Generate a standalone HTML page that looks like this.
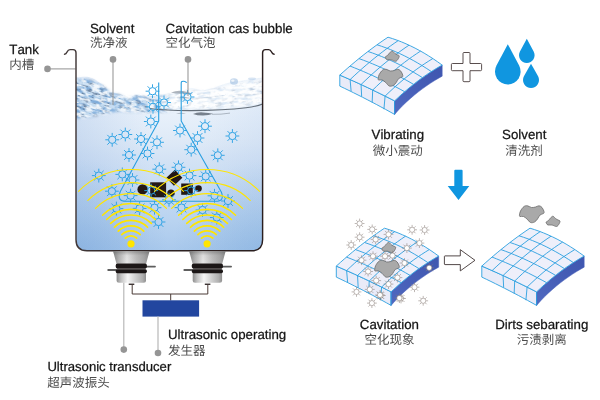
<!DOCTYPE html>
<html lang="zh"><head><meta charset="utf-8"><title>Ultrasonic cleaning principle</title>
<style>
html,body{margin:0;padding:0;background:#fff;}
body{width:600px;height:400px;overflow:hidden;}
svg{display:block;}
text{text-rendering:geometricPrecision;}
text{font-family:"Liberation Sans","Noto Sans CJK SC",sans-serif;}
.en{font-size:13.3px;fill:#141414;stroke:#141414;stroke-width:0.25px;font-kerning:none;}
.cn{font-size:12.5px;fill:#4c4c4c;}
</style></head><body>
<svg width="600" height="400" viewBox="0 0 600 400">
<defs>
<linearGradient id="water" x1="0" y1="0" x2="0" y2="1">
<stop offset="0" stop-color="#f6fafe"/><stop offset="0.22" stop-color="#e7f0fa"/><stop offset="0.36" stop-color="#dfeaf7"/><stop offset="0.47" stop-color="#d4e3f5"/><stop offset="0.82" stop-color="#b9d3f0"/><stop offset="1" stop-color="#a8c8ec"/>
</linearGradient>
<radialGradient id="waterc" gradientUnits="userSpaceOnUse" cx="76" cy="251" r="92"><stop offset="0" stop-color="#72a2d6" stop-opacity="0.4"/><stop offset="1" stop-color="#72a2d6" stop-opacity="0"/></radialGradient>
<radialGradient id="waterd" gradientUnits="userSpaceOnUse" cx="262.6" cy="251" r="90"><stop offset="0" stop-color="#72a4d6" stop-opacity="0.35"/><stop offset="1" stop-color="#72a4d6" stop-opacity="0"/></radialGradient>
<linearGradient id="waterh" x1="0" y1="0" x2="1" y2="0">
<stop offset="0" stop-color="#6f9ad6" stop-opacity="0.2"/><stop offset="0.4" stop-color="#6f9ad6" stop-opacity="0"/><stop offset="0.67" stop-color="#6f9ad6" stop-opacity="0"/><stop offset="1" stop-color="#6f9ad6" stop-opacity="0.1"/>
</linearGradient>
<linearGradient id="metal" x1="0" y1="0" x2="1" y2="0">
<stop offset="0" stop-color="#868686"/><stop offset="0.15" stop-color="#b4b4b4"/><stop offset="0.38" stop-color="#ececec"/><stop offset="0.62" stop-color="#c4c4c4"/><stop offset="0.85" stop-color="#a9a9a9"/><stop offset="1" stop-color="#8c8c8c"/>
</linearGradient>
<linearGradient id="metal2" x1="0" y1="0" x2="1" y2="0">
<stop offset="0" stop-color="#8e8e8e"/><stop offset="0.15" stop-color="#c2c2c2"/><stop offset="0.38" stop-color="#f6f6f6"/><stop offset="0.65" stop-color="#cfcfcf"/><stop offset="0.88" stop-color="#b0b0b0"/><stop offset="1" stop-color="#909090"/>
</linearGradient>
<linearGradient id="side" x1="0" y1="1" x2="1" y2="0">
<stop offset="0" stop-color="#5069c0"/><stop offset="0.5" stop-color="#465eb7"/><stop offset="1" stop-color="#3f56af"/>
</linearGradient>
<linearGradient id="wall" gradientUnits="userSpaceOnUse" x1="64" y1="0" x2="274" y2="0"><stop offset="0" stop-color="#453c3c"/><stop offset="0.3" stop-color="#2e2323"/><stop offset="1" stop-color="#2a1e1e"/></linearGradient>
<linearGradient id="hornv" x1="0" y1="0" x2="0" y2="1"><stop offset="0" stop-color="#555" stop-opacity="0.45"/><stop offset="0.35" stop-color="#777" stop-opacity="0.12"/><stop offset="1" stop-color="#888" stop-opacity="0.05"/></linearGradient>
<clipPath id="tankclip"><path d="M76 60V239.8Q76 250.8 87 250.8H251.6Q262.6 250.8 262.6 239.8V60Z"/></clipPath>
<filter id="foamA" x="0" y="0" width="100%" height="100%" color-interpolation-filters="sRGB">
<feTurbulence type="fractalNoise" baseFrequency="0.09 0.28" numOctaves="4" seed="11"/>
<feColorMatrix type="matrix" values="0 0 0 0 0.50  0 0 0 0 0.68  0 0 0 0 0.86  5 0 0 0 -2.1"/>
<feComposite in2="SourceGraphic" operator="in"/>
</filter>
<filter id="foamB" x="0" y="0" width="100%" height="100%" color-interpolation-filters="sRGB">
<feTurbulence type="fractalNoise" baseFrequency="0.14 0.5" numOctaves="3" seed="5"/>
<feColorMatrix type="matrix" values="0 0 0 0 0.36  0 0 0 0 0.45  0 0 0 0 0.57  0 7 0 0 -3.8"/>
<feComposite in2="SourceGraphic" operator="in"/>
</filter>
<filter id="foamW" x="0" y="0" width="100%" height="100%" color-interpolation-filters="sRGB">
<feTurbulence type="fractalNoise" baseFrequency="0.12 0.36" numOctaves="3" seed="23"/>
<feColorMatrix type="matrix" values="0 0 0 0 1  0 0 0 0 1  0 0 0 0 1  0 0 7 0 -3.3"/>
<feComposite in2="SourceGraphic" operator="in"/>
</filter>
<filter id="blur1" x="-20%" y="-20%" width="140%" height="140%"><feGaussianBlur stdDeviation="0.7"/></filter>
<filter id="blur2" x="-10%" y="-30%" width="120%" height="160%"><feGaussianBlur stdDeviation="1.5"/></filter>
<mask id="mL" maskUnits="userSpaceOnUse" x="60" y="60" width="220" height="80"><path d="M70 79C84 77.5 92 78.5 103 86C110 92 114 94 120 95C126 98 131 99 137 95C144 98 156 97 172 95L172 111C150 113 135 112 120 111C105 113 92 118 70 119Z" fill="#fff" filter="url(#blur2)"/></mask>
<mask id="mR" maskUnits="userSpaceOnUse" x="60" y="60" width="220" height="80"><path d="M160 96C176 95 186 90 192 90C200 92 214 90 230 84.5C242 82 252 81 268 79.5V103C240 108 215 109 190 109L160 109Z" fill="#fff" filter="url(#blur2)"/></mask>
</defs>
<rect width="600" height="400" fill="#fff"/>

<g clip-path="url(#tankclip)">
<path d="M76 77.5C80 77 84 76.5 87 76.8C92 77.5 96 80 103 85C107 88.5 109 91.5 112 92.5C115 93.5 117 93 120 94C123 95 125 98 128 98C131 98 134 94.5 137 94C140 93.5 142 97 145 97.5C150 98 158 95 165 94C172 93 176 93.5 180 92C185 90 188 87.5 192 88C197 88.5 200 91 206 90C214 88.5 222 84 230 82.5C240 80.5 252 79 262.5 77.5V252H76Z" fill="url(#water)"/>
<path d="M76 77.5C80 77 84 76.5 87 76.8C92 77.5 96 80 103 85C107 88.5 109 91.5 112 92.5C115 93.5 117 93 120 94C123 95 125 98 128 98C131 98 134 94.5 137 94C140 93.5 142 97 145 97.5C150 98 158 95 165 94C172 93 176 93.5 180 92C185 90 188 87.5 192 88C197 88.5 200 91 206 90C214 88.5 222 84 230 82.5C240 80.5 252 79 262.5 77.5V252H76Z" fill="url(#waterh)"/>
<path d="M76 77.5C80 77 84 76.5 87 76.8C92 77.5 96 80 103 85C107 88.5 109 91.5 112 92.5C115 93.5 117 93 120 94C123 95 125 98 128 98C131 98 134 94.5 137 94C140 93.5 142 97 145 97.5C150 98 158 95 165 94C172 93 176 93.5 180 92C185 90 188 87.5 192 88C197 88.5 200 91 206 90C214 88.5 222 84 230 82.5C240 80.5 252 79 262.5 77.5V252H76Z" fill="url(#waterc)"/>
<path d="M76 77.5C80 77 84 76.5 87 76.8C92 77.5 96 80 103 85C107 88.5 109 91.5 112 92.5C115 93.5 117 93 120 94C123 95 125 98 128 98C131 98 134 94.5 137 94C140 93.5 142 97 145 97.5C150 98 158 95 165 94C172 93 176 93.5 180 92C185 90 188 87.5 192 88C197 88.5 200 91 206 90C214 88.5 222 84 230 82.5C240 80.5 252 79 262.5 77.5V252H76Z" fill="url(#waterd)"/>
<g mask="url(#mL)">
<rect x="70" y="70" width="110" height="55" fill="#c4dcf1" opacity="0.9"/>
<g transform="rotate(17 120 95)">
<rect x="50" y="50" width="150" height="90" fill="#000" filter="url(#foamA)"/>
<rect x="50" y="50" width="150" height="90" fill="#000" filter="url(#foamB)" opacity="0.75"/>
<rect x="50" y="50" width="150" height="90" fill="#000" filter="url(#foamW)" opacity="0.8"/>
</g></g>
<g mask="url(#mR)">
<rect x="155" y="70" width="115" height="55" fill="#fff" opacity="0.88"/>
<g transform="rotate(-6 215 95)">
<rect x="140" y="55" width="140" height="80" fill="#000" filter="url(#foamA)" opacity="0.26"/>
<rect x="140" y="55" width="140" height="80" fill="#000" filter="url(#foamB)" opacity="0.22"/>
<rect x="140" y="55" width="140" height="80" fill="#000" filter="url(#foamW)" opacity="0.9"/>
</g></g>
<path d="M171 92.5q6 -2.5 12 -1.5q6 1 10 3.2q-6 -0.6 -11 -0.4q-6 0.2 -11 -1.3z" fill="#6a7686" opacity="0.55"/>
<path d="M176 97q8 -1 16 1.2q-8 0.8 -16 -1.2z" fill="#6a7686" opacity="0.45"/>
<g filter="url(#blur1)"><ellipse cx="234" cy="81.5" rx="4" ry="3.2" fill="#8fb4dc" opacity="0.5"/><ellipse cx="232.8" cy="80.6" rx="1.6" ry="1.2" fill="#fff" opacity="0.7"/>
<ellipse cx="252" cy="78.8" rx="4" ry="1.4" fill="#9dbde0" opacity="0.4"/></g>
<path d="M150 108.5C160 110 175 110.6 190 110.6C210 110.6 232 109.6 246 107.8C254 106.8 259 105.5 262.6 104" fill="none" stroke="#57606c" stroke-width="1.05" opacity="0.9"/>
<path d="M193 114q4 -2 10 -1.6q6 0.2 10 1.4q-4 1.8 -10 1.8q-6 0 -10 -1.6z" fill="#5b6572" opacity="0.8"/>
<path d="M176 113.2q5 -0.8 10 0q-5 1.2 -10 0z" fill="#5b6572" opacity="0.45"/>
<path d="M212 114.3q9 0.3 18 -1.2" fill="none" stroke="#6b7683" stroke-width="0.8" opacity="0.6"/>
</g>
<g fill="#231815">
<circle cx="142.6" cy="189.4" r="5.2"/>
<rect x="150.2" y="182.3" width="15.9" height="15"/>
<rect x="-5.8" y="-5.5" width="11.6" height="11" transform="translate(174.4 177.8) rotate(-43)"/>
<circle cx="171" cy="193.2" r="3.7"/>
<rect x="181.2" y="183.5" width="11.6" height="11.3"/>
<circle cx="198.5" cy="188.5" r="3.3"/>
</g>
<g clip-path="url(#tankclip)">
<circle cx="152.50" cy="91.20" r="3.65" fill="none" stroke="#2aa1e4" stroke-width="1.00"/><path d="M156.60 91.20L159.40 91.20M155.40 94.10L157.38 96.08M152.50 95.30L152.50 98.10M149.60 94.10L147.62 96.08M148.40 91.20L145.60 91.20M149.60 88.30L147.62 86.32M152.50 87.10L152.50 84.30M155.40 88.30L157.38 86.32" stroke="#2aa1e4" stroke-width="0.95" fill="none"/>
<circle cx="153.00" cy="106.80" r="3.65" fill="none" stroke="#2aa1e4" stroke-width="1.00"/><path d="M157.10 106.80L159.90 106.80M155.90 109.70L157.88 111.68M153.00 110.90L153.00 113.70M150.10 109.70L148.12 111.68M148.90 106.80L146.10 106.80M150.10 103.90L148.12 101.92M153.00 102.70L153.00 99.90M155.90 103.90L157.88 101.92" stroke="#2aa1e4" stroke-width="0.95" fill="none"/>
<circle cx="164.00" cy="102.50" r="3.65" fill="none" stroke="#2aa1e4" stroke-width="1.00"/><path d="M168.10 102.50L170.90 102.50M166.90 105.40L168.88 107.38M164.00 106.60L164.00 109.40M161.10 105.40L159.12 107.38M159.90 102.50L157.10 102.50M161.10 99.60L159.12 97.62M164.00 98.40L164.00 95.60M166.90 99.60L168.88 97.62" stroke="#2aa1e4" stroke-width="0.95" fill="none"/>
<circle cx="150.80" cy="121.50" r="3.65" fill="none" stroke="#2aa1e4" stroke-width="1.00"/><path d="M154.90 121.50L157.70 121.50M153.70 124.40L155.68 126.38M150.80 125.60L150.80 128.40M147.90 124.40L145.92 126.38M146.70 121.50L143.90 121.50M147.90 118.60L145.92 116.62M150.80 117.40L150.80 114.60M153.70 118.60L155.68 116.62" stroke="#2aa1e4" stroke-width="0.95" fill="none"/>
<circle cx="187.50" cy="97.00" r="3.65" fill="none" stroke="#2aa1e4" stroke-width="1.00"/><path d="M191.60 97.00L194.40 97.00M190.40 99.90L192.38 101.88M187.50 101.10L187.50 103.90M184.60 99.90L182.62 101.88M183.40 97.00L180.60 97.00M184.60 94.10L182.62 92.12M187.50 92.90L187.50 90.10M190.40 94.10L192.38 92.12" stroke="#2aa1e4" stroke-width="0.95" fill="none"/>
<circle cx="112.20" cy="139.80" r="3.65" fill="none" stroke="#2aa1e4" stroke-width="1.00"/><path d="M116.30 139.80L119.10 139.80M115.10 142.70L117.08 144.68M112.20 143.90L112.20 146.70M109.30 142.70L107.32 144.68M108.10 139.80L105.30 139.80M109.30 136.90L107.32 134.92M112.20 135.70L112.20 132.90M115.10 136.90L117.08 134.92" stroke="#2aa1e4" stroke-width="0.95" fill="none"/>
<circle cx="125.30" cy="134.50" r="3.65" fill="none" stroke="#2aa1e4" stroke-width="1.00"/><path d="M129.40 134.50L132.20 134.50M128.20 137.40L130.18 139.38M125.30 138.60L125.30 141.40M122.40 137.40L120.42 139.38M121.20 134.50L118.40 134.50M122.40 131.60L120.42 129.62M125.30 130.40L125.30 127.60M128.20 131.60L130.18 129.62" stroke="#2aa1e4" stroke-width="0.95" fill="none"/>
<circle cx="141.00" cy="139.00" r="3.65" fill="none" stroke="#2aa1e4" stroke-width="1.00"/><path d="M145.10 139.00L147.90 139.00M143.90 141.90L145.88 143.88M141.00 143.10L141.00 145.90M138.10 141.90L136.12 143.88M136.90 139.00L134.10 139.00M138.10 136.10L136.12 134.12M141.00 134.90L141.00 132.10M143.90 136.10L145.88 134.12" stroke="#2aa1e4" stroke-width="0.95" fill="none"/>
<circle cx="157.00" cy="142.30" r="3.65" fill="none" stroke="#2aa1e4" stroke-width="1.00"/><path d="M161.10 142.30L163.90 142.30M159.90 145.20L161.88 147.18M157.00 146.40L157.00 149.20M154.10 145.20L152.12 147.18M152.90 142.30L150.10 142.30M154.10 139.40L152.12 137.42M157.00 138.20L157.00 135.40M159.90 139.40L161.88 137.42" stroke="#2aa1e4" stroke-width="0.95" fill="none"/>
<circle cx="129.00" cy="155.00" r="3.65" fill="none" stroke="#2aa1e4" stroke-width="1.00"/><path d="M133.10 155.00L135.90 155.00M131.90 157.90L133.88 159.88M129.00 159.10L129.00 161.90M126.10 157.90L124.12 159.88M124.90 155.00L122.10 155.00M126.10 152.10L124.12 150.12M129.00 150.90L129.00 148.10M131.90 152.10L133.88 150.12" stroke="#2aa1e4" stroke-width="0.95" fill="none"/>
<circle cx="147.50" cy="153.50" r="3.65" fill="none" stroke="#2aa1e4" stroke-width="1.00"/><path d="M151.60 153.50L154.40 153.50M150.40 156.40L152.38 158.38M147.50 157.60L147.50 160.40M144.60 156.40L142.62 158.38M143.40 153.50L140.60 153.50M144.60 150.60L142.62 148.62M147.50 149.40L147.50 146.60M150.40 150.60L152.38 148.62" stroke="#2aa1e4" stroke-width="0.95" fill="none"/>
<circle cx="180.00" cy="130.50" r="3.65" fill="none" stroke="#2aa1e4" stroke-width="1.00"/><path d="M184.10 130.50L186.90 130.50M182.90 133.40L184.88 135.38M180.00 134.60L180.00 137.40M177.10 133.40L175.12 135.38M175.90 130.50L173.10 130.50M177.10 127.60L175.12 125.62M180.00 126.40L180.00 123.60M182.90 127.60L184.88 125.62" stroke="#2aa1e4" stroke-width="0.95" fill="none"/>
<circle cx="205.00" cy="126.20" r="3.65" fill="none" stroke="#2aa1e4" stroke-width="1.00"/><path d="M209.10 126.20L211.90 126.20M207.90 129.10L209.88 131.08M205.00 130.30L205.00 133.10M202.10 129.10L200.12 131.08M200.90 126.20L198.10 126.20M202.10 123.30L200.12 121.32M205.00 122.10L205.00 119.30M207.90 123.30L209.88 121.32" stroke="#2aa1e4" stroke-width="0.95" fill="none"/>
<circle cx="197.50" cy="138.00" r="3.65" fill="none" stroke="#2aa1e4" stroke-width="1.00"/><path d="M201.60 138.00L204.40 138.00M200.40 140.90L202.38 142.88M197.50 142.10L197.50 144.90M194.60 140.90L192.62 142.88M193.40 138.00L190.60 138.00M194.60 135.10L192.62 133.12M197.50 133.90L197.50 131.10M200.40 135.10L202.38 133.12" stroke="#2aa1e4" stroke-width="0.95" fill="none"/>
<circle cx="191.20" cy="149.70" r="3.65" fill="none" stroke="#2aa1e4" stroke-width="1.00"/><path d="M195.30 149.70L198.10 149.70M194.10 152.60L196.08 154.58M191.20 153.80L191.20 156.60M188.30 152.60L186.32 154.58M187.10 149.70L184.30 149.70M188.30 146.80L186.32 144.82M191.20 145.60L191.20 142.80M194.10 146.80L196.08 144.82" stroke="#2aa1e4" stroke-width="0.95" fill="none"/>
<circle cx="232.40" cy="136.00" r="3.65" fill="none" stroke="#2aa1e4" stroke-width="1.00"/><path d="M236.50 136.00L239.30 136.00M235.30 138.90L237.28 140.88M232.40 140.10L232.40 142.90M229.50 138.90L227.52 140.88M228.30 136.00L225.50 136.00M229.50 133.10L227.52 131.12M232.40 131.90L232.40 129.10M235.30 133.10L237.28 131.12" stroke="#2aa1e4" stroke-width="0.95" fill="none"/>
<circle cx="217.80" cy="155.30" r="3.65" fill="none" stroke="#2aa1e4" stroke-width="1.00"/><path d="M221.90 155.30L224.70 155.30M220.70 158.20L222.68 160.18M217.80 159.40L217.80 162.20M214.90 158.20L212.92 160.18M213.70 155.30L210.90 155.30M214.90 152.40L212.92 150.42M217.80 151.20L217.80 148.40M220.70 152.40L222.68 150.42" stroke="#2aa1e4" stroke-width="0.95" fill="none"/>
<circle cx="159.30" cy="169.20" r="3.65" fill="none" stroke="#2aa1e4" stroke-width="1.00"/><path d="M163.40 169.20L166.20 169.20M162.20 172.10L164.18 174.08M159.30 173.30L159.30 176.10M156.40 172.10L154.42 174.08M155.20 169.20L152.40 169.20M156.40 166.30L154.42 164.32M159.30 165.10L159.30 162.30M162.20 166.30L164.18 164.32" stroke="#2aa1e4" stroke-width="0.95" fill="none"/>
<circle cx="178.50" cy="167.30" r="3.65" fill="none" stroke="#2aa1e4" stroke-width="1.00"/><path d="M182.60 167.30L185.40 167.30M181.40 170.20L183.38 172.18M178.50 171.40L178.50 174.20M175.60 170.20L173.62 172.18M174.40 167.30L171.60 167.30M175.60 164.40L173.62 162.42M178.50 163.20L178.50 160.40M181.40 164.40L183.38 162.42" stroke="#2aa1e4" stroke-width="0.95" fill="none"/>
<circle cx="122.30" cy="174.40" r="3.65" fill="none" stroke="#2aa1e4" stroke-width="1.00"/><path d="M126.40 174.40L129.20 174.40M125.20 177.30L127.18 179.28M122.30 178.50L122.30 181.30M119.40 177.30L117.42 179.28M118.20 174.40L115.40 174.40M119.40 171.50L117.42 169.52M122.30 170.30L122.30 167.50M125.20 171.50L127.18 169.52" stroke="#2aa1e4" stroke-width="0.95" fill="none"/>
<circle cx="132.50" cy="180.00" r="3.65" fill="none" stroke="#2aa1e4" stroke-width="1.00"/><path d="M136.60 180.00L139.40 180.00M135.40 182.90L137.38 184.88M132.50 184.10L132.50 186.90M129.60 182.90L127.62 184.88M128.40 180.00L125.60 180.00M129.60 177.10L127.62 175.12M132.50 175.90L132.50 173.10M135.40 177.10L137.38 175.12" stroke="#2aa1e4" stroke-width="0.95" fill="none"/>
<circle cx="98.80" cy="175.60" r="3.65" fill="none" stroke="#2aa1e4" stroke-width="1.00"/><path d="M102.90 175.60L105.70 175.60M101.70 178.50L103.68 180.48M98.80 179.70L98.80 182.50M95.90 178.50L93.92 180.48M94.70 175.60L91.90 175.60M95.90 172.70L93.92 170.72M98.80 171.50L98.80 168.70M101.70 172.70L103.68 170.72" stroke="#2aa1e4" stroke-width="0.95" fill="none"/>
<circle cx="111.90" cy="191.20" r="3.65" fill="none" stroke="#2aa1e4" stroke-width="1.00"/><path d="M116.00 191.20L118.80 191.20M114.80 194.10L116.78 196.08M111.90 195.30L111.90 198.10M109.00 194.10L107.02 196.08M107.80 191.20L105.00 191.20M109.00 188.30L107.02 186.32M111.90 187.10L111.90 184.30M114.80 188.30L116.78 186.32" stroke="#2aa1e4" stroke-width="0.95" fill="none"/>
<circle cx="130.60" cy="195.60" r="3.65" fill="none" stroke="#2aa1e4" stroke-width="1.00"/><path d="M134.70 195.60L137.50 195.60M133.50 198.50L135.48 200.48M130.60 199.70L130.60 202.50M127.70 198.50L125.72 200.48M126.50 195.60L123.70 195.60M127.70 192.70L125.72 190.72M130.60 191.50L130.60 188.70M133.50 192.70L135.48 190.72" stroke="#2aa1e4" stroke-width="0.95" fill="none"/>
<circle cx="189.50" cy="175.60" r="3.65" fill="none" stroke="#2aa1e4" stroke-width="1.00"/><path d="M193.60 175.60L196.40 175.60M192.40 178.50L194.38 180.48M189.50 179.70L189.50 182.50M186.60 178.50L184.62 180.48M185.40 175.60L182.60 175.60M186.60 172.70L184.62 170.72M189.50 171.50L189.50 168.70M192.40 172.70L194.38 170.72" stroke="#2aa1e4" stroke-width="0.95" fill="none"/>
<circle cx="205.70" cy="176.40" r="3.65" fill="none" stroke="#2aa1e4" stroke-width="1.00"/><path d="M209.80 176.40L212.60 176.40M208.60 179.30L210.58 181.28M205.70 180.50L205.70 183.30M202.80 179.30L200.82 181.28M201.60 176.40L198.80 176.40M202.80 173.50L200.82 171.52M205.70 172.30L205.70 169.50M208.60 173.50L210.58 171.52" stroke="#2aa1e4" stroke-width="0.95" fill="none"/>
<circle cx="214.50" cy="195.80" r="3.65" fill="none" stroke="#2aa1e4" stroke-width="1.00"/><path d="M218.60 195.80L221.40 195.80M217.40 198.70L219.38 200.68M214.50 199.90L214.50 202.70M211.60 198.70L209.62 200.68M210.40 195.80L207.60 195.80M211.60 192.90L209.62 190.92M214.50 191.70L214.50 188.90M217.40 192.90L219.38 190.92" stroke="#2aa1e4" stroke-width="0.95" fill="none"/>
<circle cx="228.00" cy="201.00" r="3.65" fill="none" stroke="#2aa1e4" stroke-width="1.00"/><path d="M232.10 201.00L234.90 201.00M230.90 203.90L232.88 205.88M228.00 205.10L228.00 207.90M225.10 203.90L223.12 205.88M223.90 201.00L221.10 201.00M225.10 198.10L223.12 196.12M228.00 196.90L228.00 194.10M230.90 198.10L232.88 196.12" stroke="#2aa1e4" stroke-width="0.95" fill="none"/>
<circle cx="151.20" cy="190.60" r="3.65" fill="none" stroke="#2aa1e4" stroke-width="1.00"/><path d="M155.30 190.60L158.10 190.60M154.10 193.50L156.08 195.48M151.20 194.70L151.20 197.50M148.30 193.50L146.32 195.48M147.10 190.60L144.30 190.60M148.30 187.70L146.32 185.72M151.20 186.50L151.20 183.70M154.10 187.70L156.08 185.72" stroke="#2aa1e4" stroke-width="0.95" fill="none"/>
<circle cx="191.20" cy="190.60" r="3.65" fill="none" stroke="#2aa1e4" stroke-width="1.00"/><path d="M195.30 190.60L198.10 190.60M194.10 193.50L196.08 195.48M191.20 194.70L191.20 197.50M188.30 193.50L186.32 195.48M187.10 190.60L184.30 190.60M188.30 187.70L186.32 185.72M191.20 186.50L191.20 183.70M194.10 187.70L196.08 185.72" stroke="#2aa1e4" stroke-width="0.95" fill="none"/>
<circle cx="116.40" cy="208.60" r="3.65" fill="none" stroke="#2aa1e4" stroke-width="1.00"/><path d="M120.50 208.60L123.30 208.60M119.30 211.50L121.28 213.48M116.40 212.70L116.40 215.50M113.50 211.50L111.52 213.48M112.30 208.60L109.50 208.60M113.50 205.70L111.52 203.72M116.40 204.50L116.40 201.70M119.30 205.70L121.28 203.72" stroke="#2aa1e4" stroke-width="0.95" fill="none"/>
<circle cx="139.60" cy="208.40" r="3.65" fill="none" stroke="#2aa1e4" stroke-width="1.00"/><path d="M143.70 208.40L146.50 208.40M142.50 211.30L144.48 213.28M139.60 212.50L139.60 215.30M136.70 211.30L134.72 213.28M135.50 208.40L132.70 208.40M136.70 205.50L134.72 203.52M139.60 204.30L139.60 201.50M142.50 205.50L144.48 203.52" stroke="#2aa1e4" stroke-width="0.95" fill="none"/>
<circle cx="154.50" cy="207.70" r="3.65" fill="none" stroke="#2aa1e4" stroke-width="1.00"/><path d="M158.60 207.70L161.40 207.70M157.40 210.60L159.38 212.58M154.50 211.80L154.50 214.60M151.60 210.60L149.62 212.58M150.40 207.70L147.60 207.70M151.60 204.80L149.62 202.82M154.50 203.60L154.50 200.80M157.40 204.80L159.38 202.82" stroke="#2aa1e4" stroke-width="0.95" fill="none"/>
<circle cx="158.50" cy="222.00" r="3.65" fill="none" stroke="#2aa1e4" stroke-width="1.00"/><path d="M162.60 222.00L165.40 222.00M161.40 224.90L163.38 226.88M158.50 226.10L158.50 228.90M155.60 224.90L153.62 226.88M154.40 222.00L151.60 222.00M155.60 219.10L153.62 217.12M158.50 217.90L158.50 215.10M161.40 219.10L163.38 217.12" stroke="#2aa1e4" stroke-width="0.95" fill="none"/>
<circle cx="181.50" cy="207.60" r="3.65" fill="none" stroke="#2aa1e4" stroke-width="1.00"/><path d="M185.60 207.60L188.40 207.60M184.40 210.50L186.38 212.48M181.50 211.70L181.50 214.50M178.60 210.50L176.62 212.48M177.40 207.60L174.60 207.60M178.60 204.70L176.62 202.72M181.50 203.50L181.50 200.70M184.40 204.70L186.38 202.72" stroke="#2aa1e4" stroke-width="0.95" fill="none"/>
<circle cx="202.50" cy="210.00" r="3.65" fill="none" stroke="#2aa1e4" stroke-width="1.00"/><path d="M206.60 210.00L209.40 210.00M205.40 212.90L207.38 214.88M202.50 214.10L202.50 216.90M199.60 212.90L197.62 214.88M198.40 210.00L195.60 210.00M199.60 207.10L197.62 205.12M202.50 205.90L202.50 203.10M205.40 207.10L207.38 205.12" stroke="#2aa1e4" stroke-width="0.95" fill="none"/>
<circle cx="216.80" cy="217.50" r="3.65" fill="none" stroke="#2aa1e4" stroke-width="1.00"/><path d="M220.90 217.50L223.70 217.50M219.70 220.40L221.68 222.38M216.80 221.60L216.80 224.40M213.90 220.40L211.92 222.38M212.70 217.50L209.90 217.50M213.90 214.60L211.92 212.62M216.80 213.40L216.80 210.60M219.70 214.60L221.68 212.62" stroke="#2aa1e4" stroke-width="0.95" fill="none"/>
<circle cx="169.00" cy="199.80" r="3.65" fill="none" stroke="#2aa1e4" stroke-width="1.00"/><path d="M173.10 199.80L175.90 199.80M171.90 202.70L173.88 204.68M169.00 203.90L169.00 206.70M166.10 202.70L164.12 204.68M164.90 199.80L162.10 199.80M166.10 196.90L164.12 194.92M169.00 195.70L169.00 192.90M171.90 196.90L173.88 194.92" stroke="#2aa1e4" stroke-width="0.95" fill="none"/>
</g>
<path d="M158.7 82.5V121L120.3 191.5Q116.5 201.3 126 201.3H215.5Q225 201.3 221.3 192L181.2 121V83Q181.2 81 184 81.2Q186.3 81.4 186.5 83" fill="none" stroke="#2a9fe0" stroke-width="1.1" stroke-linejoin="round"/>
<g clip-path="url(#tankclip)">
<path d="M125.34 238.14A8.00 8.00 0 0 1 136.66 238.14" fill="none" stroke="#ffe500" stroke-width="1.75" stroke-linecap="round"/><path d="M121.81 234.61A13.00 13.00 0 0 1 140.19 234.61" fill="none" stroke="#ffe500" stroke-width="1.75" stroke-linecap="round"/><path d="M118.27 231.07A18.00 18.00 0 0 1 143.73 231.07" fill="none" stroke="#ffe500" stroke-width="1.75" stroke-linecap="round"/><path d="M114.45 227.25A23.40 23.40 0 0 1 147.55 227.25" fill="none" stroke="#ffe500" stroke-width="1.75" stroke-linecap="round"/><path d="M110.64 223.44A28.80 28.80 0 0 1 151.36 223.44" fill="none" stroke="#ffe500" stroke-width="1.70" stroke-linecap="round"/><path d="M106.68 219.48A34.40 34.40 0 0 1 155.32 219.48" fill="none" stroke="#ffe500" stroke-width="1.60" stroke-linecap="round"/><path d="M102.50 215.30A40.30 40.30 0 0 1 159.50 215.30" fill="none" stroke="#ffe500" stroke-width="1.40" stroke-linecap="round"/><path d="M95.50 208.30A50.20 50.20 0 0 1 166.50 208.30" fill="none" stroke="#ffe500" stroke-width="1.15" stroke-linecap="round"/><path d="M87.73 200.53A61.20 61.20 0 0 1 174.27 200.53" fill="none" stroke="#ffe500" stroke-width="1.05" stroke-linecap="round"/><path d="M78.53 191.33A74.20 74.20 0 0 1 183.47 191.33" fill="none" stroke="#ffe500" stroke-width="1.05" stroke-linecap="round"/><circle cx="131.00" cy="243.80" r="3.6" fill="#ffe500"/>
<path d="M201.44 238.14A8.00 8.00 0 0 1 212.76 238.14" fill="none" stroke="#ffe500" stroke-width="1.75" stroke-linecap="round"/><path d="M197.91 234.61A13.00 13.00 0 0 1 216.29 234.61" fill="none" stroke="#ffe500" stroke-width="1.75" stroke-linecap="round"/><path d="M194.37 231.07A18.00 18.00 0 0 1 219.83 231.07" fill="none" stroke="#ffe500" stroke-width="1.75" stroke-linecap="round"/><path d="M190.55 227.25A23.40 23.40 0 0 1 223.65 227.25" fill="none" stroke="#ffe500" stroke-width="1.75" stroke-linecap="round"/><path d="M186.74 223.44A28.80 28.80 0 0 1 227.46 223.44" fill="none" stroke="#ffe500" stroke-width="1.70" stroke-linecap="round"/><path d="M182.78 219.48A34.40 34.40 0 0 1 231.42 219.48" fill="none" stroke="#ffe500" stroke-width="1.60" stroke-linecap="round"/><path d="M178.60 215.30A40.30 40.30 0 0 1 235.60 215.30" fill="none" stroke="#ffe500" stroke-width="1.40" stroke-linecap="round"/><path d="M171.60 208.30A50.20 50.20 0 0 1 242.60 208.30" fill="none" stroke="#ffe500" stroke-width="1.15" stroke-linecap="round"/><path d="M163.83 200.53A61.20 61.20 0 0 1 250.37 200.53" fill="none" stroke="#ffe500" stroke-width="1.05" stroke-linecap="round"/><path d="M154.63 191.33A74.20 74.20 0 0 1 259.57 191.33" fill="none" stroke="#ffe500" stroke-width="1.05" stroke-linecap="round"/><circle cx="207.10" cy="243.80" r="3.6" fill="#ffe500"/>
</g>
<g stroke="#9a9a9a" stroke-width="1.1" fill="none">
<path d="M47.5 68.9H75.5"/><path d="M113 59.5V105"/><path d="M188 59.5V96"/>
</g>
<g fill="#959595"><circle cx="47.5" cy="68.9" r="3.3"/><circle cx="113" cy="59.4" r="3.3"/><circle cx="188" cy="59.4" r="3.3"/></g>
<path d="M64.5 54.3C67.8 54.1 66.3 49.6 70 49.6H73Q76 49.6 76 52.8V239.8Q76 250.8 87 250.8H251.6Q262.6 250.8 262.6 239.8V52.8Q262.6 49.6 265.6 49.6H268.6C272.3 49.6 270.8 54.1 274.1 54.3" fill="none" stroke="url(#wall)" stroke-width="1.45" stroke-linecap="round"/>
<path d="M113.1 251.2H149.5Q147.7 257.8 146.1 263.8H116.5Q114.9 257.8 113.1 251.2Z" fill="url(#metal)"/><path d="M113.1 251.2H149.5Q147.7 257.8 146.1 263.8H116.5Q114.9 257.8 113.1 251.2Z" fill="url(#hornv)"/><path d="M145.8 265.7h9.2a0.9 0.9 0 0 1 0 1.8h-9.2z" fill="#5e5e5e"/><path d="M116.8 269.1h-8.6a0.9 0.9 0 0 0 0 1.8h8.6z" fill="#5e5e5e"/><path d="M116.6 272h29.4v8.2q0 2.5 -2.5 2.5h-24.4q-2.5 0 -2.5 -2.5z" fill="url(#metal2)"/><rect x="115.7" y="263.6" width="31.2" height="5" rx="1.8" fill="#1c1717"/><rect x="115.7" y="269.2" width="31.2" height="4.1" rx="1.8" fill="#1c1717"/><rect x="116.8" y="268.4" width="29" height="1" fill="#2b2727"/><rect x="128.7" y="283.6" width="5.6" height="1.3" fill="#2a2020"/>
<path d="M189.2 251.2H225.6Q223.8 257.8 222.2 263.8H192.6Q191.0 257.8 189.2 251.2Z" fill="url(#metal)"/><path d="M189.2 251.2H225.6Q223.8 257.8 222.2 263.8H192.6Q191.0 257.8 189.2 251.2Z" fill="url(#hornv)"/><path d="M221.9 265.7h9.2a0.9 0.9 0 0 1 0 1.8h-9.2z" fill="#5e5e5e"/><path d="M192.9 269.1h-8.6a0.9 0.9 0 0 0 0 1.8h8.6z" fill="#5e5e5e"/><path d="M192.7 272h29.4v8.2q0 2.5 -2.5 2.5h-24.4q-2.5 0 -2.5 -2.5z" fill="url(#metal2)"/><rect x="191.8" y="263.6" width="31.2" height="5" rx="1.8" fill="#1c1717"/><rect x="191.8" y="269.2" width="31.2" height="4.1" rx="1.8" fill="#1c1717"/><rect x="192.9" y="268.4" width="29" height="1" fill="#2b2727"/><rect x="204.8" y="283.6" width="5.6" height="1.3" fill="#2a2020"/>
<path d="M132.2 284.5V294H207.8V284.5M170.7 294V300.5" fill="none" stroke="#4a3a36" stroke-width="1"/>
<rect x="142.5" y="300.3" width="56.6" height="16.3" fill="#22469f"/>
<g stroke="#b8b8b8" stroke-width="1.2"><path d="M123.8 282.7V349.5"/><path d="M158 316.5V353"/></g>
<g fill="#959595"><circle cx="123.8" cy="349.6" r="3.3"/><circle cx="158" cy="353" r="3.3"/></g>
<g opacity="0.999"><text class="en" x="9.3" y="53.7" text-anchor="start">Tank</text></g>
<g opacity="0.999"><text class="cn" x="9.3" y="69.2" text-anchor="start">内槽</text></g>
<g opacity="0.999"><text class="en" x="90.0" y="32.7" text-anchor="start">Solvent</text></g>
<g opacity="0.999"><text class="cn" x="90.0" y="47.2" text-anchor="start">洗净液</text></g>
<g opacity="0.999"><text class="en" x="165.6" y="32.7" text-anchor="start">Cavitation cas bubble</text></g>
<g opacity="0.999"><text class="cn" x="165.6" y="47.2" text-anchor="start">空化气泡</text></g>
<g opacity="0.999"><text class="en" x="168.0" y="339.3" text-anchor="start">Ultrasonic operating</text></g>
<g opacity="0.999"><text class="cn" x="168.0" y="355.2" text-anchor="start">发生器</text></g>
<g opacity="0.999"><text class="en" x="47.4" y="371.3" text-anchor="start" style="font-size:13.12px">Ultrasonic transducer</text></g>
<g opacity="0.999"><text class="cn" x="47.3" y="387.0" text-anchor="start">超声波振头</text></g>
<path d="M339.80 75.10L344.37 77.07L348.93 79.07L353.50 81.10L358.07 83.17L362.63 85.27L367.20 87.40L371.77 89.57L376.33 91.77L380.90 94.00L385.47 96.27L390.03 98.57L394.60 100.90L394.60 114.40L390.03 111.86L385.47 109.35L380.90 106.88L376.33 104.43L371.77 102.03L367.20 99.65L362.63 97.31L358.07 95.00L353.50 92.72L348.93 90.48L344.37 88.27L339.80 86.10Z" fill="#e9ebf8" stroke="#2a9fe0" stroke-width="0.9" stroke-linejoin="round"/><path d="M394.60 100.90L398.57 97.18L402.53 93.60L406.50 90.15L410.47 86.83L414.43 83.65L418.40 80.60L422.37 77.68L426.33 74.90L430.30 72.25L434.27 69.73L438.23 67.35L442.20 65.10L442.20 76.13L438.23 78.39L434.27 80.79L430.30 83.33L426.33 86.02L422.37 88.86L418.40 91.86L414.43 95.03L410.47 98.38L406.50 101.95L402.53 105.77L398.57 109.90L394.60 114.40Z" fill="url(#side)" stroke="#4861ba" stroke-width="0.5" stroke-linejoin="round"/><path d="M339.80 75.10L343.82 71.48L347.83 67.95L351.85 64.50L355.87 61.13L359.88 57.85L363.90 54.65L367.92 51.53L371.93 48.50L375.95 45.55L379.97 42.68L383.98 39.90L388.00 37.20L392.52 38.61L397.03 40.18L401.55 41.92L406.07 43.83L410.58 45.91L415.10 48.15L419.62 50.56L424.13 53.13L428.65 55.88L433.17 58.78L437.68 61.86L442.20 65.10L438.23 67.35L434.27 69.73L430.30 72.25L426.33 74.90L422.37 77.68L418.40 80.60L414.43 83.65L410.47 86.83L406.50 90.15L402.53 93.60L398.57 97.18L394.60 100.90L390.03 98.57L385.47 96.27L380.90 94.00L376.33 91.77L371.77 89.57L367.20 87.40L362.63 85.27L358.07 83.17L353.50 81.10L348.93 79.07L344.37 77.07Z" fill="#eeeffa" stroke="#2a9fe0" stroke-width="0.9" stroke-linejoin="round"/><path d="M350.02 66.06L354.57 67.86L359.13 69.72L363.69 71.64L368.24 73.63L372.80 75.67L377.35 77.78L381.91 79.94L386.47 82.17L391.02 84.46L395.58 86.82L400.14 89.23L404.69 91.71M350.10 79.58L354.11 75.83L358.12 72.16L362.12 68.59L366.13 65.11L370.14 61.72L374.15 58.43L378.15 55.23L382.16 52.12L386.17 49.10L390.18 46.18L394.18 43.35L398.19 40.61M358.98 58.58L363.53 60.25L368.08 62.01L372.62 63.86L377.17 65.79L381.72 67.81L386.26 69.91L390.81 72.10L395.36 74.38L399.90 76.74L404.45 79.19L409.00 81.73L413.54 84.35M361.06 84.54L365.06 80.70L369.06 76.95L373.05 73.31L377.05 69.78L381.05 66.34L385.05 63.01L389.04 59.78L393.04 56.65L397.04 53.63L401.04 50.71L405.03 47.89L409.03 45.18M368.00 51.47L372.53 53.04L377.07 54.72L381.61 56.51L386.15 58.41L390.68 60.42L395.22 62.55L399.76 64.78L404.30 67.13L408.83 69.58L413.37 72.15L417.91 74.83L422.45 77.63M372.73 90.03L376.72 86.16L380.71 82.41L384.69 78.76L388.68 75.24L392.67 71.82L396.65 68.52L400.64 65.33L404.63 62.26L408.61 59.29L412.60 56.45L416.59 53.71L420.57 51.09M377.01 44.79L381.54 46.27L386.07 47.89L390.59 49.64L395.12 51.53L399.65 53.56L404.18 55.73L408.71 58.03L413.23 60.46L417.76 63.04L422.29 65.75L426.82 68.59L431.35 71.57M385.12 96.09L389.09 92.28L393.07 88.59L397.05 85.03L401.02 81.59L405.00 78.27L408.97 75.08L412.95 72.01L416.92 69.07L420.90 66.26L424.87 63.57L428.85 61.00L432.82 58.56" fill="none" stroke="#2a9fe0" stroke-width="0.9"/><path d="M350.10 79.58L351.10 91.05M361.06 84.54L361.66 96.51M372.73 90.03L372.13 102.53M385.12 96.09L383.92 109.16" fill="none" stroke="#2a9fe0" stroke-width="0.9"/><path d="M394.60 100.90L394.60 114.40" stroke="#2a9fe0" stroke-width="0.9"/>
<path d="M378.20 78.50C378.28 77.58 378.45 75.92 379.20 74.50C379.95 73.08 381.53 70.87 382.70 70.00C383.87 69.13 384.95 69.13 386.20 69.30C387.45 69.47 388.87 70.80 390.20 71.00C391.53 71.20 392.95 70.78 394.20 70.50C395.45 70.22 396.62 69.22 397.70 69.30C398.78 69.38 399.87 70.05 400.70 71.00C401.53 71.95 402.45 74.00 402.70 75.00C402.95 76.00 402.87 76.42 402.20 77.00C401.53 77.58 399.70 77.58 398.70 78.50C397.70 79.42 397.12 81.33 396.20 82.50C395.28 83.67 394.37 84.92 393.20 85.50C392.03 86.08 390.45 86.50 389.20 86.00C387.95 85.50 386.87 83.50 385.70 82.50C384.53 81.50 383.37 80.42 382.20 80.00C381.03 79.58 379.37 80.25 378.70 80.00C378.03 79.75 378.12 79.42 378.20 78.50Z" fill="#a9a9a9" stroke="#6c6c6c" stroke-width="0.8"/>
<path d="M385.40 56.80C385.73 56.30 386.98 55.97 387.70 55.30C388.42 54.63 388.95 53.52 389.70 52.80C390.45 52.08 391.37 50.92 392.20 51.00C393.03 51.08 393.87 52.67 394.70 53.30C395.53 53.93 396.45 54.38 397.20 54.80C397.95 55.22 399.03 55.13 399.20 55.80C399.37 56.47 398.78 57.88 398.20 58.80C397.62 59.72 396.87 61.13 395.70 61.30C394.53 61.47 392.62 60.05 391.20 59.80C389.78 59.55 388.12 60.05 387.20 59.80C386.28 59.55 386.00 58.80 385.70 58.30C385.40 57.80 385.07 57.30 385.40 56.80Z" fill="#a9a9a9" stroke="#6c6c6c" stroke-width="0.8"/>
<path d="M464 52.5h5q1 0 1 1v10h10.6q1 0 1 1v5.2q0 1 -1 1h-10.6v10q0 1 -1 1h-5q-1 0 -1 -1v-10h-10.6q-1 0 -1 -1v-5.2q0 -1 1 -1h10.6v-10q0 -1 1 -1z" fill="#fff" stroke="#463a3a" stroke-width="0.9"/>
<path d="M507.80 44.20L519.12 65.62A12.80 12.80 0 1 1 496.48 65.62Z" fill="#1096e0"/>
<path d="M526.80 38.80L533.66 51.49A7.80 7.80 0 1 1 519.94 51.49Z" fill="#1096e0"/>
<path d="M531.00 63.80L537.96 76.05A8.00 8.00 0 1 1 524.04 76.05Z" fill="#1096e0"/>
<g opacity="0.999"><text class="en" x="397.8" y="138.9" text-anchor="middle">Vibrating</text></g>
<g opacity="0.999"><text class="cn" x="397.8" y="154.5" text-anchor="middle">微小震动</text></g>
<g opacity="0.999"><text class="en" x="524.2" y="138.9" text-anchor="middle">Solvent</text></g>
<g opacity="0.999"><text class="cn" x="524.0" y="154.5" text-anchor="middle">清洗剂</text></g>
<path d="M455.3 169.8h6.3q1 0 1 1v15.2h6.7L458.5 200L447.7 186h6.6v-15.2q0 -1 1 -1z" fill="#1096e0"/>
<path d="M336.30 266.10L340.87 268.07L345.43 270.07L350.00 272.10L354.57 274.17L359.13 276.27L363.70 278.40L368.27 280.57L372.83 282.77L377.40 285.00L381.97 287.27L386.53 289.57L391.10 291.90L391.10 305.40L386.53 302.86L381.97 300.35L377.40 297.88L372.83 295.43L368.27 293.02L363.70 290.65L359.13 288.31L354.57 286.00L350.00 283.73L345.43 281.48L340.87 279.27L336.30 277.10Z" fill="#e9ebf8" stroke="#2a9fe0" stroke-width="0.9" stroke-linejoin="round"/><path d="M391.10 291.90L395.07 288.18L399.03 284.60L403.00 281.15L406.97 277.83L410.93 274.65L414.90 271.60L418.87 268.68L422.83 265.90L426.80 263.25L430.77 260.73L434.73 258.35L438.70 256.10L438.70 267.13L434.73 269.39L430.77 271.79L426.80 274.33L422.83 277.02L418.87 279.86L414.90 282.86L410.93 286.03L406.97 289.38L403.00 292.95L399.03 296.77L395.07 300.90L391.10 305.40Z" fill="url(#side)" stroke="#4861ba" stroke-width="0.5" stroke-linejoin="round"/><path d="M336.30 266.10L340.32 262.48L344.33 258.95L348.35 255.50L352.37 252.13L356.38 248.85L360.40 245.65L364.42 242.53L368.43 239.50L372.45 236.55L376.47 233.68L380.48 230.90L384.50 228.20L389.02 229.61L393.53 231.18L398.05 232.93L402.57 234.83L407.08 236.91L411.60 239.15L416.12 241.56L420.63 244.13L425.15 246.88L429.67 249.78L434.18 252.86L438.70 256.10L434.73 258.35L430.77 260.73L426.80 263.25L422.83 265.90L418.87 268.68L414.90 271.60L410.93 274.65L406.97 277.83L403.00 281.15L399.03 284.60L395.07 288.18L391.10 291.90L386.53 289.57L381.97 287.27L377.40 285.00L372.83 282.77L368.27 280.57L363.70 278.40L359.13 276.27L354.57 274.17L350.00 272.10L345.43 270.07L340.87 268.07Z" fill="#eeeffa" stroke="#2a9fe0" stroke-width="0.9" stroke-linejoin="round"/><path d="M346.52 257.06L351.07 258.86L355.63 260.72L360.19 262.64L364.74 264.63L369.30 266.67L373.85 268.78L378.41 270.94L382.97 273.17L387.52 275.46L392.08 277.82L396.64 280.23L401.19 282.71M346.60 270.58L350.61 266.83L354.62 263.16L358.62 259.59L362.63 256.11L366.64 252.72L370.65 249.43L374.65 246.23L378.66 243.12L382.67 240.10L386.68 237.18L390.68 234.35L394.69 231.61M355.48 249.58L360.03 251.25L364.58 253.01L369.12 254.86L373.67 256.79L378.22 258.81L382.76 260.91L387.31 263.10L391.86 265.38L396.40 267.74L400.95 270.19L405.50 272.73L410.04 275.35M357.56 275.54L361.56 271.70L365.56 267.95L369.55 264.31L373.55 260.78L377.55 257.34L381.55 254.01L385.54 250.78L389.54 247.65L393.54 244.63L397.54 241.71L401.53 238.89L405.53 236.18M364.50 242.47L369.03 244.04L373.57 245.72L378.11 247.51L382.65 249.41L387.18 251.42L391.72 253.55L396.26 255.78L400.80 258.13L405.33 260.58L409.87 263.15L414.41 265.83L418.95 268.63M369.23 281.03L373.22 277.16L377.21 273.41L381.19 269.76L385.18 266.24L389.17 262.82L393.15 259.52L397.14 256.33L401.13 253.26L405.11 250.29L409.10 247.45L413.09 244.71L417.07 242.09M373.51 235.79L378.04 237.27L382.57 238.89L387.09 240.64L391.62 242.53L396.15 244.56L400.68 246.73L405.21 249.03L409.73 251.46L414.26 254.04L418.79 256.75L423.32 259.59L427.85 262.57M381.62 287.09L385.59 283.28L389.57 279.59L393.55 276.03L397.52 272.59L401.50 269.27L405.47 266.08L409.45 263.01L413.42 260.07L417.40 257.26L421.37 254.57L425.35 252.00L429.32 249.56" fill="none" stroke="#2a9fe0" stroke-width="0.9"/><path d="M346.60 270.58L347.60 282.05M357.56 275.54L358.16 287.51M369.23 281.03L368.63 293.53M381.62 287.09L380.42 300.16" fill="none" stroke="#2a9fe0" stroke-width="0.9"/><path d="M391.10 291.90L391.10 305.40" stroke="#2a9fe0" stroke-width="0.9"/>
<path d="M374.70 269.50C374.78 268.58 374.95 266.92 375.70 265.50C376.45 264.08 378.03 261.87 379.20 261.00C380.37 260.13 381.45 260.13 382.70 260.30C383.95 260.47 385.37 261.80 386.70 262.00C388.03 262.20 389.45 261.78 390.70 261.50C391.95 261.22 393.12 260.22 394.20 260.30C395.28 260.38 396.37 261.05 397.20 262.00C398.03 262.95 398.95 265.00 399.20 266.00C399.45 267.00 399.37 267.42 398.70 268.00C398.03 268.58 396.20 268.58 395.20 269.50C394.20 270.42 393.62 272.33 392.70 273.50C391.78 274.67 390.87 275.92 389.70 276.50C388.53 277.08 386.95 277.50 385.70 277.00C384.45 276.50 383.37 274.50 382.20 273.50C381.03 272.50 379.87 271.42 378.70 271.00C377.53 270.58 375.87 271.25 375.20 271.00C374.53 270.75 374.62 270.42 374.70 269.50Z" fill="#a9a9a9" stroke="#6c6c6c" stroke-width="0.8"/>
<path d="M381.90 248.20C382.23 247.70 383.48 247.37 384.20 246.70C384.92 246.03 385.45 244.92 386.20 244.20C386.95 243.48 387.87 242.32 388.70 242.40C389.53 242.48 390.37 244.07 391.20 244.70C392.03 245.33 392.95 245.78 393.70 246.20C394.45 246.62 395.53 246.53 395.70 247.20C395.87 247.87 395.28 249.28 394.70 250.20C394.12 251.12 393.37 252.53 392.20 252.70C391.03 252.87 389.12 251.45 387.70 251.20C386.28 250.95 384.62 251.45 383.70 251.20C382.78 250.95 382.50 250.20 382.20 249.70C381.90 249.20 381.57 248.70 381.90 248.20Z" fill="#a9a9a9" stroke="#6c6c6c" stroke-width="0.8"/>
<circle cx="359.60" cy="223.50" r="2.60" fill="#fff" stroke="#877d78" stroke-width="0.55"/><path d="M362.50 223.50L364.50 223.50M361.65 225.55L363.06 226.96M359.60 226.40L359.60 228.40M357.55 225.55L356.14 226.96M356.70 223.50L354.70 223.50M357.55 221.45L356.14 220.04M359.60 220.60L359.60 218.60M361.65 221.45L363.06 220.04" stroke="#877d78" stroke-width="0.55" fill="none"/>
<circle cx="372.20" cy="229.40" r="2.60" fill="#fff" stroke="#877d78" stroke-width="0.55"/><path d="M375.10 229.40L377.10 229.40M374.25 231.45L375.66 232.86M372.20 232.30L372.20 234.30M370.15 231.45L368.74 232.86M369.30 229.40L367.30 229.40M370.15 227.35L368.74 225.94M372.20 226.50L372.20 224.50M374.25 227.35L375.66 225.94" stroke="#877d78" stroke-width="0.55" fill="none"/>
<circle cx="359.60" cy="237.20" r="2.60" fill="#fff" stroke="#877d78" stroke-width="0.55"/><path d="M362.50 237.20L364.50 237.20M361.65 239.25L363.06 240.66M359.60 240.10L359.60 242.10M357.55 239.25L356.14 240.66M356.70 237.20L354.70 237.20M357.55 235.15L356.14 233.74M359.60 234.30L359.60 232.30M361.65 235.15L363.06 233.74" stroke="#877d78" stroke-width="0.55" fill="none"/>
<circle cx="351.20" cy="245.00" r="2.60" fill="#fff" stroke="#877d78" stroke-width="0.55"/><path d="M354.10 245.00L356.10 245.00M353.25 247.05L354.66 248.46M351.20 247.90L351.20 249.90M349.15 247.05L347.74 248.46M348.30 245.00L346.30 245.00M349.15 242.95L347.74 241.54M351.20 242.10L351.20 240.10M353.25 242.95L354.66 241.54" stroke="#877d78" stroke-width="0.55" fill="none"/>
<circle cx="412.10" cy="229.80" r="2.60" fill="#fff" stroke="#877d78" stroke-width="0.55"/><path d="M415.00 229.80L417.00 229.80M414.15 231.85L415.56 233.26M412.10 232.70L412.10 234.70M410.05 231.85L408.64 233.26M409.20 229.80L407.20 229.80M410.05 227.75L408.64 226.34M412.10 226.90L412.10 224.90M414.15 227.75L415.56 226.34" stroke="#877d78" stroke-width="0.55" fill="none"/>
<circle cx="424.60" cy="230.00" r="2.60" fill="#fff" stroke="#877d78" stroke-width="0.55"/><path d="M427.50 230.00L429.50 230.00M426.65 232.05L428.06 233.46M424.60 232.90L424.60 234.90M422.55 232.05L421.14 233.46M421.70 230.00L419.70 230.00M422.55 227.95L421.14 226.54M424.60 227.10L424.60 225.10M426.65 227.95L428.06 226.54" stroke="#877d78" stroke-width="0.55" fill="none"/>
<circle cx="356.50" cy="291.90" r="2.60" fill="#fff" stroke="#877d78" stroke-width="0.55"/><path d="M359.40 291.90L361.40 291.90M358.55 293.95L359.96 295.36M356.50 294.80L356.50 296.80M354.45 293.95L353.04 295.36M353.60 291.90L351.60 291.90M354.45 289.85L353.04 288.44M356.50 289.00L356.50 287.00M358.55 289.85L359.96 288.44" stroke="#877d78" stroke-width="0.55" fill="none"/>
<circle cx="371.90" cy="303.10" r="2.60" fill="#fff" stroke="#877d78" stroke-width="0.55"/><path d="M374.80 303.10L376.80 303.10M373.95 305.15L375.36 306.56M371.90 306.00L371.90 308.00M369.85 305.15L368.44 306.56M369.00 303.10L367.00 303.10M369.85 301.05L368.44 299.64M371.90 300.20L371.90 298.20M373.95 301.05L375.36 299.64" stroke="#877d78" stroke-width="0.55" fill="none"/>
<circle cx="414.50" cy="287.20" r="2.60" fill="#fff" stroke="#877d78" stroke-width="0.55"/><path d="M417.40 287.20L419.40 287.20M416.55 289.25L417.96 290.66M414.50 290.10L414.50 292.10M412.45 289.25L411.04 290.66M411.60 287.20L409.60 287.20M412.45 285.15L411.04 283.74M414.50 284.30L414.50 282.30M416.55 285.15L417.96 283.74" stroke="#877d78" stroke-width="0.55" fill="none"/>
<circle cx="401.00" cy="298.50" r="2.60" fill="#fff" stroke="#877d78" stroke-width="0.55"/><path d="M403.90 298.50L405.90 298.50M403.05 300.55L404.46 301.96M401.00 301.40L401.00 303.40M398.95 300.55L397.54 301.96M398.10 298.50L396.10 298.50M398.95 296.45L397.54 295.04M401.00 295.60L401.00 293.60M403.05 296.45L404.46 295.04" stroke="#877d78" stroke-width="0.55" fill="none"/>
<circle cx="423.20" cy="300.80" r="2.60" fill="#fff" stroke="#877d78" stroke-width="0.55"/><path d="M426.10 300.80L428.10 300.80M425.25 302.85L426.66 304.26M423.20 303.70L423.20 305.70M421.15 302.85L419.74 304.26M420.30 300.80L418.30 300.80M421.15 298.75L419.74 297.34M423.20 297.90L423.20 295.90M425.25 298.75L426.66 297.34" stroke="#877d78" stroke-width="0.55" fill="none"/>
<circle cx="380.80" cy="295.50" r="2.60" fill="#fff" stroke="#877d78" stroke-width="0.55"/><path d="M383.70 295.50L385.70 295.50M382.85 297.55L384.26 298.96M380.80 298.40L380.80 300.40M378.75 297.55L377.34 298.96M377.90 295.50L375.90 295.50M378.75 293.45L377.34 292.04M380.80 292.60L380.80 290.60M382.85 293.45L384.26 292.04" stroke="#877d78" stroke-width="0.55" fill="none"/>
<circle cx="388.50" cy="234.40" r="2.60" fill="#fff" stroke="#877d78" stroke-width="0.55"/><path d="M391.40 234.40L393.40 234.40M390.55 236.45L391.96 237.86M388.50 237.30L388.50 239.30M386.45 236.45L385.04 237.86M385.60 234.40L383.60 234.40M386.45 232.35L385.04 230.94M388.50 231.50L388.50 229.50M390.55 232.35L391.96 230.94" stroke="#877d78" stroke-width="0.55" fill="none"/>
<circle cx="375.60" cy="239.40" r="2.60" fill="#fff" stroke="#877d78" stroke-width="0.55"/><path d="M378.50 239.40L380.50 239.40M377.65 241.45L379.06 242.86M375.60 242.30L375.60 244.30M373.55 241.45L372.14 242.86M372.70 239.40L370.70 239.40M373.55 237.35L372.14 235.94M375.60 236.50L375.60 234.50M377.65 237.35L379.06 235.94" stroke="#877d78" stroke-width="0.55" fill="none"/>
<circle cx="373.00" cy="256.20" r="2.60" fill="#fff" stroke="#877d78" stroke-width="0.55"/><path d="M375.90 256.20L377.90 256.20M375.05 258.25L376.46 259.66M373.00 259.10L373.00 261.10M370.95 258.25L369.54 259.66M370.10 256.20L368.10 256.20M370.95 254.15L369.54 252.74M373.00 253.30L373.00 251.30M375.05 254.15L376.46 252.74" stroke="#877d78" stroke-width="0.55" fill="none"/>
<circle cx="361.50" cy="260.20" r="2.60" fill="#fff" stroke="#877d78" stroke-width="0.55"/><path d="M364.40 260.20L366.40 260.20M363.55 262.25L364.96 263.66M361.50 263.10L361.50 265.10M359.45 262.25L358.04 263.66M358.60 260.20L356.60 260.20M359.45 258.15L358.04 256.74M361.50 257.30L361.50 255.30M363.55 258.15L364.96 256.74" stroke="#877d78" stroke-width="0.55" fill="none"/>
<circle cx="385.00" cy="256.20" r="2.60" fill="#fff" stroke="#877d78" stroke-width="0.55"/><path d="M387.90 256.20L389.90 256.20M387.05 258.25L388.46 259.66M385.00 259.10L385.00 261.10M382.95 258.25L381.54 259.66M382.10 256.20L380.10 256.20M382.95 254.15L381.54 252.74M385.00 253.30L385.00 251.30M387.05 254.15L388.46 252.74" stroke="#877d78" stroke-width="0.55" fill="none"/>
<circle cx="392.50" cy="255.60" r="2.60" fill="#fff" stroke="#877d78" stroke-width="0.55"/><path d="M395.40 255.60L397.40 255.60M394.55 257.65L395.96 259.06M392.50 258.50L392.50 260.50M390.45 257.65L389.04 259.06M389.60 255.60L387.60 255.60M390.45 253.55L389.04 252.14M392.50 252.70L392.50 250.70M394.55 253.55L395.96 252.14" stroke="#877d78" stroke-width="0.55" fill="none"/>
<circle cx="419.40" cy="243.10" r="2.60" fill="#fff" stroke="#877d78" stroke-width="0.55"/><path d="M422.30 243.10L424.30 243.10M421.45 245.15L422.86 246.56M419.40 246.00L419.40 248.00M417.35 245.15L415.94 246.56M416.50 243.10L414.50 243.10M417.35 241.05L415.94 239.64M419.40 240.20L419.40 238.20M421.45 241.05L422.86 239.64" stroke="#877d78" stroke-width="0.55" fill="none"/>
<circle cx="406.90" cy="248.10" r="2.60" fill="#fff" stroke="#877d78" stroke-width="0.55"/><path d="M409.80 248.10L411.80 248.10M408.95 250.15L410.36 251.56M406.90 251.00L406.90 253.00M404.85 250.15L403.44 251.56M404.00 248.10L402.00 248.10M404.85 246.05L403.44 244.64M406.90 245.20L406.90 243.20M408.95 246.05L410.36 244.64" stroke="#877d78" stroke-width="0.55" fill="none"/>
<circle cx="404.50" cy="263.00" r="2.60" fill="#fff" stroke="#877d78" stroke-width="0.55"/><path d="M407.40 263.00L409.40 263.00M406.55 265.05L407.96 266.46M404.50 265.90L404.50 267.90M402.45 265.05L401.04 266.46M401.60 263.00L399.60 263.00M402.45 260.95L401.04 259.54M404.50 260.10L404.50 258.10M406.55 260.95L407.96 259.54" stroke="#877d78" stroke-width="0.55" fill="none"/>
<circle cx="368.10" cy="271.50" r="2.60" fill="#fff" stroke="#877d78" stroke-width="0.55"/><path d="M371.00 271.50L373.00 271.50M370.15 273.55L371.56 274.96M368.10 274.40L368.10 276.40M366.05 273.55L364.64 274.96M365.20 271.50L363.20 271.50M366.05 269.45L364.64 268.04M368.10 268.60L368.10 266.60M370.15 269.45L371.56 268.04" stroke="#877d78" stroke-width="0.55" fill="none"/>
<circle cx="376.20" cy="280.60" r="2.60" fill="#fff" stroke="#877d78" stroke-width="0.55"/><path d="M379.10 280.60L381.10 280.60M378.25 282.65L379.66 284.06M376.20 283.50L376.20 285.50M374.15 282.65L372.74 284.06M373.30 280.60L371.30 280.60M374.15 278.55L372.74 277.14M376.20 277.70L376.20 275.70M378.25 278.55L379.66 277.14" stroke="#877d78" stroke-width="0.55" fill="none"/>
<circle cx="388.50" cy="284.10" r="2.60" fill="#fff" stroke="#877d78" stroke-width="0.55"/><path d="M391.40 284.10L393.40 284.10M390.55 286.15L391.96 287.56M388.50 287.00L388.50 289.00M386.45 286.15L385.04 287.56M385.60 284.10L383.60 284.10M386.45 282.05L385.04 280.64M388.50 281.20L388.50 279.20M390.55 282.05L391.96 280.64" stroke="#877d78" stroke-width="0.55" fill="none"/>
<circle cx="397.40" cy="277.60" r="2.60" fill="#fff" stroke="#877d78" stroke-width="0.55"/><path d="M400.30 277.60L402.30 277.60M399.45 279.65L400.86 281.06M397.40 280.50L397.40 282.50M395.35 279.65L393.94 281.06M394.50 277.60L392.50 277.60M395.35 275.55L393.94 274.14M397.40 274.70L397.40 272.70M399.45 275.55L400.86 274.14" stroke="#877d78" stroke-width="0.55" fill="none"/>
<circle cx="369.80" cy="289.40" r="2.60" fill="#fff" stroke="#877d78" stroke-width="0.55"/><path d="M372.70 289.40L374.70 289.40M371.85 291.45L373.26 292.86M369.80 292.30L369.80 294.30M367.75 291.45L366.34 292.86M366.90 289.40L364.90 289.40M367.75 287.35L366.34 285.94M369.80 286.50L369.80 284.50M371.85 287.35L373.26 285.94" stroke="#877d78" stroke-width="0.55" fill="none"/>
<circle cx="380.00" cy="295.00" r="2.60" fill="#fff" stroke="#877d78" stroke-width="0.55"/><path d="M382.90 295.00L384.90 295.00M382.05 297.05L383.46 298.46M380.00 297.90L380.00 299.90M377.95 297.05L376.54 298.46M377.10 295.00L375.10 295.00M377.95 292.95L376.54 291.54M380.00 292.10L380.00 290.10M382.05 292.95L383.46 291.54" stroke="#877d78" stroke-width="0.55" fill="none"/>
<circle cx="399.40" cy="298.10" r="2.60" fill="#fff" stroke="#877d78" stroke-width="0.55"/><path d="M402.30 298.10L404.30 298.10M401.45 300.15L402.86 301.56M399.40 301.00L399.40 303.00M397.35 300.15L395.94 301.56M396.50 298.10L394.50 298.10M397.35 296.05L395.94 294.64M399.40 295.20L399.40 293.20M401.45 296.05L402.86 294.64" stroke="#877d78" stroke-width="0.55" fill="none"/>
<circle cx="429.20" cy="267.80" r="2.60" fill="#fff" stroke="#877d78" stroke-width="0.55"/><path d="M432.10 267.80L434.10 267.80M431.25 269.85L432.66 271.26M429.20 270.70L429.20 272.70M427.15 269.85L425.74 271.26M426.30 267.80L424.30 267.80M427.15 265.75L425.74 264.34M429.20 264.90L429.20 262.90M431.25 265.75L432.66 264.34" stroke="#877d78" stroke-width="0.55" fill="none"/>
<path d="M445 255.9h15.3v-6.2L475 260.3L460.3 270.9v-6.3h-15.3q-0.6 0 -0.6 -0.6v-7.5q0 -0.6 0.6 -0.6z" fill="#fff" stroke="#3f3434" stroke-width="0.9" stroke-linejoin="miter"/>
<path d="M481.80 266.10L486.37 268.07L490.93 270.07L495.50 272.10L500.07 274.17L504.63 276.27L509.20 278.40L513.77 280.57L518.33 282.77L522.90 285.00L527.47 287.27L532.03 289.57L536.60 291.90L536.60 305.40L532.03 302.86L527.47 300.35L522.90 297.88L518.33 295.43L513.77 293.02L509.20 290.65L504.63 288.31L500.07 286.00L495.50 283.73L490.93 281.48L486.37 279.27L481.80 277.10Z" fill="#e9ebf8" stroke="#2a9fe0" stroke-width="0.9" stroke-linejoin="round"/><path d="M536.60 291.90L540.57 288.18L544.53 284.60L548.50 281.15L552.47 277.83L556.43 274.65L560.40 271.60L564.37 268.68L568.33 265.90L572.30 263.25L576.27 260.73L580.23 258.35L584.20 256.10L584.20 267.13L580.23 269.39L576.27 271.79L572.30 274.33L568.33 277.02L564.37 279.86L560.40 282.86L556.43 286.03L552.47 289.38L548.50 292.95L544.53 296.77L540.57 300.90L536.60 305.40Z" fill="url(#side)" stroke="#4861ba" stroke-width="0.5" stroke-linejoin="round"/><path d="M481.80 266.10L485.82 262.48L489.83 258.95L493.85 255.50L497.87 252.13L501.88 248.85L505.90 245.65L509.92 242.53L513.93 239.50L517.95 236.55L521.97 233.68L525.98 230.90L530.00 228.20L534.52 229.61L539.03 231.18L543.55 232.93L548.07 234.83L552.58 236.91L557.10 239.15L561.62 241.56L566.13 244.13L570.65 246.88L575.17 249.78L579.68 252.86L584.20 256.10L580.23 258.35L576.27 260.73L572.30 263.25L568.33 265.90L564.37 268.68L560.40 271.60L556.43 274.65L552.47 277.83L548.50 281.15L544.53 284.60L540.57 288.18L536.60 291.90L532.03 289.57L527.47 287.27L522.90 285.00L518.33 282.77L513.77 280.57L509.20 278.40L504.63 276.27L500.07 274.17L495.50 272.10L490.93 270.07L486.37 268.07Z" fill="#eeeffa" stroke="#2a9fe0" stroke-width="0.9" stroke-linejoin="round"/><path d="M492.02 257.06L496.57 258.86L501.13 260.72L505.69 262.64L510.24 264.63L514.80 266.67L519.35 268.78L523.91 270.94L528.47 273.17L533.02 275.46L537.58 277.82L542.14 280.23L546.69 282.71M492.10 270.58L496.11 266.83L500.12 263.16L504.12 259.59L508.13 256.11L512.14 252.72L516.15 249.43L520.15 246.23L524.16 243.12L528.17 240.10L532.18 237.18L536.18 234.35L540.19 231.61M500.98 249.58L505.53 251.25L510.08 253.01L514.62 254.86L519.17 256.79L523.72 258.81L528.26 260.91L532.81 263.10L537.36 265.38L541.90 267.74L546.45 270.19L551.00 272.73L555.54 275.35M503.06 275.54L507.06 271.70L511.06 267.95L515.05 264.31L519.05 260.78L523.05 257.34L527.05 254.01L531.04 250.78L535.04 247.65L539.04 244.63L543.04 241.71L547.03 238.89L551.03 236.18M510.00 242.47L514.53 244.04L519.07 245.72L523.61 247.51L528.15 249.41L532.68 251.42L537.22 253.55L541.76 255.78L546.30 258.13L550.83 260.58L555.37 263.15L559.91 265.83L564.45 268.63M514.73 281.03L518.72 277.16L522.71 273.41L526.69 269.76L530.68 266.24L534.67 262.82L538.65 259.52L542.64 256.33L546.63 253.26L550.61 250.29L554.60 247.45L558.59 244.71L562.57 242.09M519.01 235.79L523.54 237.27L528.07 238.89L532.59 240.64L537.12 242.53L541.65 244.56L546.18 246.73L550.71 249.03L555.23 251.46L559.76 254.04L564.29 256.75L568.82 259.59L573.35 262.57M527.12 287.09L531.09 283.28L535.07 279.59L539.05 276.03L543.02 272.59L547.00 269.27L550.97 266.08L554.95 263.01L558.92 260.07L562.90 257.26L566.87 254.57L570.85 252.00L574.82 249.56" fill="none" stroke="#2a9fe0" stroke-width="0.9"/><path d="M503.06 275.54L503.66 287.51M514.73 281.03L514.13 293.53M527.12 287.09L525.92 300.16" fill="none" stroke="#2a9fe0" stroke-width="0.9"/><path d="M536.60 291.90L536.60 305.40" stroke="#2a9fe0" stroke-width="0.9"/>
<path d="M519.50 215.00C519.58 214.08 519.75 212.42 520.50 211.00C521.25 209.58 522.83 207.37 524.00 206.50C525.17 205.63 526.25 205.63 527.50 205.80C528.75 205.97 530.17 207.30 531.50 207.50C532.83 207.70 534.25 207.28 535.50 207.00C536.75 206.72 537.92 205.72 539.00 205.80C540.08 205.88 541.17 206.55 542.00 207.50C542.83 208.45 543.75 210.50 544.00 211.50C544.25 212.50 544.17 212.92 543.50 213.50C542.83 214.08 541.00 214.08 540.00 215.00C539.00 215.92 538.42 217.83 537.50 219.00C536.58 220.17 535.67 221.42 534.50 222.00C533.33 222.58 531.75 223.00 530.50 222.50C529.25 222.00 528.17 220.00 527.00 219.00C525.83 218.00 524.67 216.92 523.50 216.50C522.33 216.08 520.67 216.75 520.00 216.50C519.33 216.25 519.42 215.92 519.50 215.00Z" fill="#a9a9a9" stroke="#6c6c6c" stroke-width="0.8"/>
<path d="M546.20 222.00C546.53 221.50 547.78 221.17 548.50 220.50C549.22 219.83 549.75 218.72 550.50 218.00C551.25 217.28 552.17 216.12 553.00 216.20C553.83 216.28 554.67 217.87 555.50 218.50C556.33 219.13 557.25 219.58 558.00 220.00C558.75 220.42 559.83 220.33 560.00 221.00C560.17 221.67 559.58 223.08 559.00 224.00C558.42 224.92 557.67 226.33 556.50 226.50C555.33 226.67 553.42 225.25 552.00 225.00C550.58 224.75 548.92 225.25 548.00 225.00C547.08 224.75 546.80 224.00 546.50 223.50C546.20 223.00 545.87 222.50 546.20 222.00Z" fill="#a9a9a9" stroke="#6c6c6c" stroke-width="0.8"/>
<g opacity="0.999"><text class="en" x="389.4" y="329.0" text-anchor="middle">Cavitation</text></g>
<g opacity="0.999"><text class="cn" x="389.5" y="344.0" text-anchor="middle">空化现象</text></g>
<g opacity="0.999"><text class="en" x="541.8" y="329.0" text-anchor="middle">Dirts sebarating</text></g>
<g opacity="0.999"><text class="cn" x="541.7" y="344.0" text-anchor="middle">污渍剥离</text></g>
</svg></body></html>
